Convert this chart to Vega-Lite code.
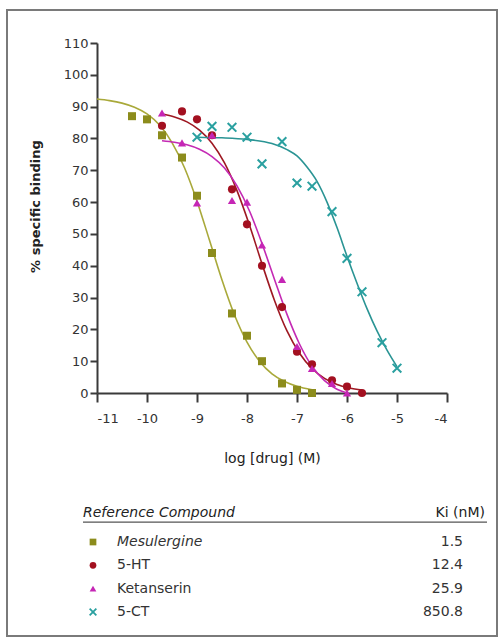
{
  "$schema": "https://vega.github.io/schema/vega-lite/v6.json",
  "width": 350,
  "height": 350,
  "autosize": {"type": "none"},
  "padding": {"left": 97, "top": 43, "right": 52, "bottom": 246},
  "background": "white",
  "config": {
    "view": {"stroke": null},
    "font": "DejaVu Sans",
    "axis": {
      "grid": false,
      "domainColor": "#3a3a3a",
      "domainWidth": 2,
      "tickColor": "#3a3a3a",
      "tickWidth": 2,
      "labelColor": "#333333",
      "labelFont": "DejaVu Sans",
      "labelFontSize": 13,
      "labelOverlap": false,
      "titleFont": "DejaVu Sans",
      "titleColor": "#222222"
    }
  },
  "datasets": {
    "points": [
      {"compound": "Mesulergine", "logdrug": -10.3, "binding": 87},
      {"compound": "Mesulergine", "logdrug": -10.0, "binding": 86},
      {"compound": "Mesulergine", "logdrug": -9.7, "binding": 81},
      {"compound": "Mesulergine", "logdrug": -9.3, "binding": 74},
      {"compound": "Mesulergine", "logdrug": -9.0, "binding": 62},
      {"compound": "Mesulergine", "logdrug": -8.7, "binding": 44},
      {"compound": "Mesulergine", "logdrug": -8.3, "binding": 25},
      {"compound": "Mesulergine", "logdrug": -8.0, "binding": 18},
      {"compound": "Mesulergine", "logdrug": -7.7, "binding": 10},
      {"compound": "Mesulergine", "logdrug": -7.3, "binding": 3},
      {"compound": "Mesulergine", "logdrug": -7.0, "binding": 1},
      {"compound": "Mesulergine", "logdrug": -6.7, "binding": 0},
      {"compound": "5-HT", "logdrug": -9.7, "binding": 84},
      {"compound": "5-HT", "logdrug": -9.3, "binding": 88.5},
      {"compound": "5-HT", "logdrug": -9.0, "binding": 86},
      {"compound": "5-HT", "logdrug": -8.7, "binding": 81},
      {"compound": "5-HT", "logdrug": -8.3, "binding": 64},
      {"compound": "5-HT", "logdrug": -8.0, "binding": 53},
      {"compound": "5-HT", "logdrug": -7.7, "binding": 40},
      {"compound": "5-HT", "logdrug": -7.3, "binding": 27},
      {"compound": "5-HT", "logdrug": -7.0, "binding": 13},
      {"compound": "5-HT", "logdrug": -6.7, "binding": 9},
      {"compound": "5-HT", "logdrug": -6.3, "binding": 4},
      {"compound": "5-HT", "logdrug": -6.0, "binding": 2},
      {"compound": "5-HT", "logdrug": -5.7, "binding": 0},
      {"compound": "Ketanserin", "logdrug": -9.7, "binding": 88},
      {"compound": "Ketanserin", "logdrug": -9.3, "binding": 78.6},
      {"compound": "Ketanserin", "logdrug": -9.0, "binding": 59.7},
      {"compound": "Ketanserin", "logdrug": -8.7, "binding": 81},
      {"compound": "Ketanserin", "logdrug": -8.3, "binding": 60.5},
      {"compound": "Ketanserin", "logdrug": -8.0, "binding": 60},
      {"compound": "Ketanserin", "logdrug": -7.7, "binding": 46.5},
      {"compound": "Ketanserin", "logdrug": -7.3, "binding": 35.7},
      {"compound": "Ketanserin", "logdrug": -7.0, "binding": 14.6},
      {"compound": "Ketanserin", "logdrug": -6.7, "binding": 7.7},
      {"compound": "Ketanserin", "logdrug": -6.3, "binding": 3},
      {"compound": "Ketanserin", "logdrug": -6.0, "binding": 0},
      {"compound": "5-CT", "logdrug": -9.0, "binding": 80.4},
      {"compound": "5-CT", "logdrug": -8.7, "binding": 83.8},
      {"compound": "5-CT", "logdrug": -8.3, "binding": 83.5},
      {"compound": "5-CT", "logdrug": -8.0, "binding": 80.4},
      {"compound": "5-CT", "logdrug": -7.7, "binding": 72},
      {"compound": "5-CT", "logdrug": -7.3, "binding": 79},
      {"compound": "5-CT", "logdrug": -7.0, "binding": 66},
      {"compound": "5-CT", "logdrug": -6.7, "binding": 65},
      {"compound": "5-CT", "logdrug": -6.3, "binding": 57},
      {"compound": "5-CT", "logdrug": -6.0, "binding": 42.3},
      {"compound": "5-CT", "logdrug": -5.7, "binding": 31.8},
      {"compound": "5-CT", "logdrug": -5.3, "binding": 15.8},
      {"compound": "5-CT", "logdrug": -5.0, "binding": 7.8}
    ],
    "curves": [
      {"compound": "Mesulergine", "logdrug": -11.0, "binding": 92.4},
      {"compound": "Mesulergine", "logdrug": -10.75, "binding": 91.9},
      {"compound": "Mesulergine", "logdrug": -10.5, "binding": 91.1},
      {"compound": "Mesulergine", "logdrug": -10.25, "binding": 89.8},
      {"compound": "Mesulergine", "logdrug": -10.0, "binding": 87.7},
      {"compound": "Mesulergine", "logdrug": -9.75, "binding": 84.2},
      {"compound": "Mesulergine", "logdrug": -9.5, "binding": 78.7},
      {"compound": "Mesulergine", "logdrug": -9.25, "binding": 70.8},
      {"compound": "Mesulergine", "logdrug": -9.0, "binding": 60.3},
      {"compound": "Mesulergine", "logdrug": -8.75, "binding": 48.0},
      {"compound": "Mesulergine", "logdrug": -8.5, "binding": 35.5},
      {"compound": "Mesulergine", "logdrug": -8.25, "binding": 24.5},
      {"compound": "Mesulergine", "logdrug": -8.0, "binding": 16.0},
      {"compound": "Mesulergine", "logdrug": -7.75, "binding": 10.0},
      {"compound": "Mesulergine", "logdrug": -7.5, "binding": 6.0},
      {"compound": "Mesulergine", "logdrug": -7.25, "binding": 3.6},
      {"compound": "Mesulergine", "logdrug": -7.0, "binding": 2.1},
      {"compound": "Mesulergine", "logdrug": -6.7, "binding": 1.0},
      {"compound": "5-HT", "logdrug": -9.7, "binding": 87.7},
      {"compound": "5-HT", "logdrug": -9.45, "binding": 86.75},
      {"compound": "5-HT", "logdrug": -9.2, "binding": 85.2},
      {"compound": "5-HT", "logdrug": -8.95, "binding": 82.6},
      {"compound": "5-HT", "logdrug": -8.7, "binding": 78.5},
      {"compound": "5-HT", "logdrug": -8.45, "binding": 72.3},
      {"compound": "5-HT", "logdrug": -8.2, "binding": 63.6},
      {"compound": "5-HT", "logdrug": -7.95, "binding": 52.7},
      {"compound": "5-HT", "logdrug": -7.7, "binding": 40.6},
      {"compound": "5-HT", "logdrug": -7.45, "binding": 29.1},
      {"compound": "5-HT", "logdrug": -7.2, "binding": 19.5},
      {"compound": "5-HT", "logdrug": -6.95, "binding": 12.5},
      {"compound": "5-HT", "logdrug": -6.7, "binding": 7.7},
      {"compound": "5-HT", "logdrug": -6.45, "binding": 4.6},
      {"compound": "5-HT", "logdrug": -6.2, "binding": 2.7},
      {"compound": "5-HT", "logdrug": -5.95, "binding": 1.6},
      {"compound": "5-HT", "logdrug": -5.7, "binding": 0.9},
      {"compound": "Ketanserin", "logdrug": -9.7, "binding": 79.3},
      {"compound": "Ketanserin", "logdrug": -9.45, "binding": 78.8},
      {"compound": "Ketanserin", "logdrug": -9.2, "binding": 78.0},
      {"compound": "Ketanserin", "logdrug": -8.95, "binding": 76.6},
      {"compound": "Ketanserin", "logdrug": -8.7, "binding": 74.3},
      {"compound": "Ketanserin", "logdrug": -8.45, "binding": 70.7},
      {"compound": "Ketanserin", "logdrug": -8.2, "binding": 65.1},
      {"compound": "Ketanserin", "logdrug": -7.95, "binding": 57.2},
      {"compound": "Ketanserin", "logdrug": -7.7, "binding": 47.0},
      {"compound": "Ketanserin", "logdrug": -7.45, "binding": 35.7},
      {"compound": "Ketanserin", "logdrug": -7.2, "binding": 24.7},
      {"compound": "Ketanserin", "logdrug": -6.95, "binding": 15.4},
      {"compound": "Ketanserin", "logdrug": -6.7, "binding": 8.4},
      {"compound": "Ketanserin", "logdrug": -6.45, "binding": 3.9},
      {"compound": "Ketanserin", "logdrug": -6.2, "binding": 1.2},
      {"compound": "Ketanserin", "logdrug": -6.0, "binding": 0},
      {"compound": "5-CT", "logdrug": -9.0, "binding": 80.4},
      {"compound": "5-CT", "logdrug": -8.5, "binding": 80.2},
      {"compound": "5-CT", "logdrug": -8.0, "binding": 79.7},
      {"compound": "5-CT", "logdrug": -7.5, "binding": 78.4},
      {"compound": "5-CT", "logdrug": -7.2, "binding": 76.5},
      {"compound": "5-CT", "logdrug": -7.0, "binding": 74.5},
      {"compound": "5-CT", "logdrug": -6.8, "binding": 71.0},
      {"compound": "5-CT", "logdrug": -6.6, "binding": 66.5},
      {"compound": "5-CT", "logdrug": -6.4, "binding": 60.0},
      {"compound": "5-CT", "logdrug": -6.2, "binding": 52.0},
      {"compound": "5-CT", "logdrug": -6.0, "binding": 43.0},
      {"compound": "5-CT", "logdrug": -5.8, "binding": 34.5},
      {"compound": "5-CT", "logdrug": -5.6, "binding": 26.5},
      {"compound": "5-CT", "logdrug": -5.4, "binding": 19.5},
      {"compound": "5-CT", "logdrug": -5.2, "binding": 13.5},
      {"compound": "5-CT", "logdrug": -5.0, "binding": 8.3}
    ],
    "legend": [
      {"compound": "Mesulergine", "ki": "1.5"},
      {"compound": "5-HT", "ki": "12.4"},
      {"compound": "Ketanserin", "ki": "25.9"},
      {"compound": "5-CT", "ki": "850.8"}
    ]
  },
  "layer": [
    {
      "layer": [
        {
          "data": {"name": "curves"},
          "mark": {"type": "line", "interpolate": "monotone", "strokeWidth": 1.6},
          "encoding": {
            "x": {
              "field": "logdrug", "type": "quantitative",
              "scale": {"domain": [-11, -4], "nice": false, "zero": false},
              "axis": {
                "values": [-11, -10, -9, -8, -7, -6, -5, -4],
                "labelExpr": "'' + datum.value",
                "labelOverlap": false,
                "tickSize": 9,
                "labelPadding": 10,
                "title": "log [drug] (M)",
                "titleFontSize": 14,
                "titleFontWeight": "normal",
                "titlePadding": 26
              }
            },
            "y": {
              "field": "binding", "type": "quantitative",
              "scale": {"domain": [0, 110], "nice": false, "zero": false},
              "axis": {
                "values": [0, 10, 20, 30, 40, 50, 60, 70, 80, 90, 100, 110],
                "tickCount": 12,
                "labelExpr": "'' + datum.value",
                "labelOverlap": false,
                "labelBound": false,
                "labelFlush": false,
                "tickSize": 7,
                "labelPadding": 2,
                "title": "% specific binding",
                "titleFontSize": 13,
                "titleFontWeight": "bold",
                "titleAngle": -90,
                "titleAlign": "center",
                "titleBaseline": "middle",
                "titleX": -62,
                "titleY": 163
              }
            },
            "detail": {"field": "compound"},
            "stroke": {
              "field": "compound", "type": "nominal", "legend": null,
              "scale": {"domain": ["Mesulergine", "5-HT", "Ketanserin", "5-CT"], "range": ["#a9a93a", "#9e1822", "#c42ab4", "#2a9494"]}
            }
          }
        },
        {
          "data": {"values": [{"item": "frame"}]},
          "mark": {"type": "rect", "fill": null, "filled": false, "stroke": "#7a7a7a", "strokeWidth": 2},
          "encoding": {
            "x": {"datum": -12.8, "type": "quantitative"},
            "x2": {"datum": -3.0},
            "y": {"datum": 120.4, "type": "quantitative"},
            "y2": {"datum": -76.4}
          }
        },
        {
          "data": {"name": "points"},
          "transform": [{"filter": "datum.compound !== '5-CT'"}],
          "mark": {"type": "point", "filled": true, "opacity": 1},
          "encoding": {
            "x": {"field": "logdrug", "type": "quantitative"},
            "y": {"field": "binding", "type": "quantitative"},
            "color": {
              "field": "compound", "type": "nominal", "legend": null,
              "scale": {"domain": ["Mesulergine", "5-HT", "Ketanserin", "5-CT"], "range": ["#8c8c1c", "#a31020", "#c526b5", "#2aa0a0"]}
            },
            "shape": {
              "field": "compound", "type": "nominal", "legend": null,
              "scale": {"domain": ["Mesulergine", "5-HT", "Ketanserin", "5-CT"], "range": ["square", "circle", "triangle-up", "cross"]}
            },
            "size": {
              "field": "compound", "type": "nominal", "legend": null,
              "scale": {"domain": ["Mesulergine", "5-HT", "Ketanserin", "5-CT"], "range": [64, 70, 95, 70]}
            }
          }
        },
        {
          "data": {"name": "points"},
          "transform": [{"filter": "datum.compound === '5-CT'"}],
          "mark": {"type": "point", "filled": false, "opacity": 1, "size": 75, "strokeWidth": 2, "shape": "M -1 -1 L 1 1 M -1 1 L 1 -1"},
          "encoding": {
            "x": {"field": "logdrug", "type": "quantitative"},
            "y": {"field": "binding", "type": "quantitative"},
            "color": {"field": "compound", "type": "nominal", "legend": null}
          }
        },
        {
          "data": {"values": [{"label": "Reference Compound"}]},
          "mark": {"type": "text", "align": "left", "baseline": "middle", "fontSize": 14, "fontStyle": "italic", "color": "#222222"},
          "encoding": {
            "x": {"datum": -11.28, "type": "quantitative"},
            "y": {"datum": -37.7, "type": "quantitative"},
            "text": {"field": "label"}
          }
        },
        {
          "data": {"values": [{"label": "Ki (nM)"}]},
          "mark": {"type": "text", "align": "right", "baseline": "middle", "fontSize": 14, "color": "#222222"},
          "encoding": {
            "x": {"datum": -3.24, "type": "quantitative"},
            "y": {"datum": -37.7, "type": "quantitative"},
            "text": {"field": "label"}
          }
        },
        {
          "data": {"values": [{"item": "underline"}]},
          "mark": {"type": "rule", "color": "#555555", "strokeWidth": 1.2},
          "encoding": {
            "x": {"datum": -11.28, "type": "quantitative"},
            "x2": {"datum": -3.2},
            "y": {"datum": -40.6, "type": "quantitative"}
          }
        }
      ]
    },
    {
      "data": {"name": "legend"},
      "encoding": {
        "y": {
          "field": "compound", "type": "nominal", "axis": null,
          "scale": {"type": "point", "domain": ["Mesulergine", "5-HT", "Ketanserin", "5-CT"], "range": [499, 569], "padding": 0}
        }
      },
      "layer": [
        {
          "transform": [{"filter": "datum.compound !== '5-CT'"}],
          "mark": {"type": "point", "filled": true, "opacity": 1, "size": 45},
          "encoding": {
            "x": {"datum": -11.08, "type": "quantitative"},
            "color": {"field": "compound", "type": "nominal", "legend": null},
            "shape": {"field": "compound", "type": "nominal", "legend": null}
          }
        },
        {
          "transform": [{"filter": "datum.compound === '5-CT'"}],
          "mark": {"type": "point", "filled": false, "opacity": 1, "size": 45, "strokeWidth": 1.8, "shape": "M -1 -1 L 1 1 M -1 1 L 1 -1"},
          "encoding": {
            "x": {"datum": -11.08, "type": "quantitative"},
            "color": {"field": "compound", "type": "nominal", "legend": null}
          }
        },
        {
          "transform": [{"filter": "datum.compound === 'Mesulergine'"}],
          "mark": {"type": "text", "align": "left", "baseline": "middle", "fontSize": 14, "fontStyle": "italic", "color": "#333333"},
          "encoding": {
            "x": {"datum": -10.6, "type": "quantitative"},
            "text": {"field": "compound"}
          }
        },
        {
          "transform": [{"filter": "datum.compound !== 'Mesulergine'"}],
          "mark": {"type": "text", "align": "left", "baseline": "middle", "fontSize": 14, "color": "#333333"},
          "encoding": {
            "x": {"datum": -10.6, "type": "quantitative"},
            "text": {"field": "compound"}
          }
        },
        {
          "mark": {"type": "text", "align": "right", "baseline": "middle", "fontSize": 14, "color": "#333333"},
          "encoding": {
            "x": {"datum": -3.68, "type": "quantitative"},
            "text": {"field": "ki"}
          }
        }
      ]
    }
  ],
  "resolve": {"scale": {"y": "independent"}}
}
